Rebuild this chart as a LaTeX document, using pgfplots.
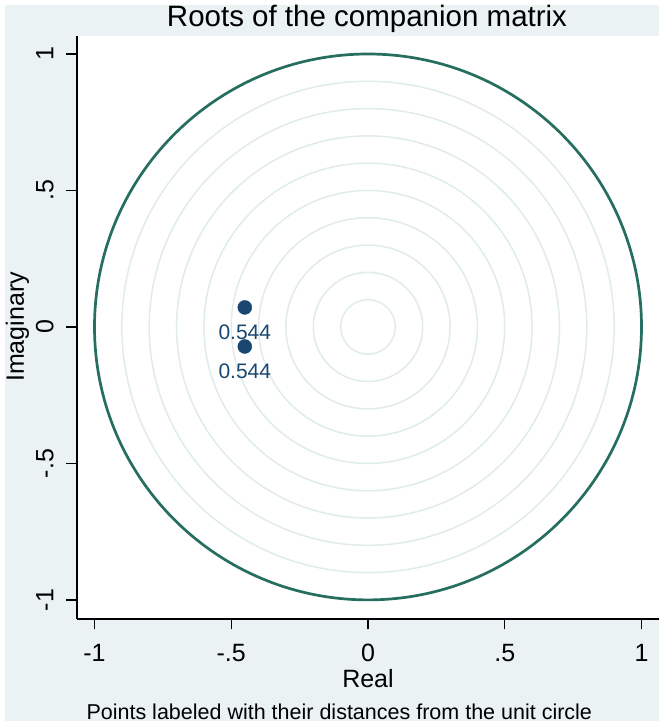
\documentclass[border=0pt]{standalone}
\usepackage{fontspec}
\setmainfont{Liberation Sans}
\usepackage{pgfplots}
\pgfplotsset{compat=1.18}
\definecolor{bgblue}{RGB}{234,242,243}
\definecolor{navy}{RGB}{26,71,111}
\definecolor{circ}{RGB}{38,110,96}
\definecolor{gridc}{RGB}{224,236,236}
\begin{document}
\begin{tikzpicture}[x=1pt,y=1pt]
\fill[white] (0,0) rectangle (666,728);
\fill[bgblue] (5,7) rectangle (659,723);
\begin{axis}[
  at={(77pt,109pt)}, anchor=south west,
  scale only axis, width=582pt, height=583pt,
  xmin=-1.064, xmax=1.064, ymin=-1.07, ymax=1.066,
  axis x line*=bottom, axis y line*=left,
  axis line style={black, line width=1.3pt, -},
  tick align=outside,
  major tick length=10.5pt,
  tick style={black, line width=1.3pt},
  xtick={-1,-0.5,0,0.5,1}, xticklabels={-1,-.5,0,.5,1},
  ytick={-1,-0.5,0,0.5,1}, yticklabels={-1,-.5,0,.5,1},
  tick label style={font=\fontsize{25}{30}\selectfont, inner sep=0pt},
  xticklabel style={anchor=north, outer ysep=15pt},
  yticklabel style={rotate=90, anchor=south, outer ysep=13pt},
  axis background/.style={fill=white},
  clip=false,
]
\draw[gridc, line width=1.5pt] (axis cs:0,0) circle[radius=0.1];
\draw[gridc, line width=1.5pt] (axis cs:0,0) circle[radius=0.2];
\draw[gridc, line width=1.5pt] (axis cs:0,0) circle[radius=0.3];
\draw[gridc, line width=1.5pt] (axis cs:0,0) circle[radius=0.4];
\draw[gridc, line width=1.5pt] (axis cs:0,0) circle[radius=0.5];
\draw[gridc, line width=1.5pt] (axis cs:0,0) circle[radius=0.6];
\draw[gridc, line width=1.5pt] (axis cs:0,0) circle[radius=0.7];
\draw[gridc, line width=1.5pt] (axis cs:0,0) circle[radius=0.8];
\draw[gridc, line width=1.5pt] (axis cs:0,0) circle[radius=0.9];
\draw[circ, line width=2.7pt] (axis cs:0,0) circle[radius=1];
\addplot[only marks, mark=*, mark size=7pt, color=navy,
  nodes near coords, point meta=explicit symbolic,
  every node near coord/.style={anchor=north, yshift=-17pt, inner sep=0pt,
    font=\fontsize{21}{25}\selectfont, text=navy}]
  table[meta=label] {
x y label
-0.4505 0.0715 0.544
-0.4505 -0.0715 0.544
};
\end{axis}
\node[anchor=base, font=\fontsize{25}{30}\selectfont] at (368,40) {Real};
\node[rotate=90, anchor=base, font=\fontsize{25}{30}\selectfont] at (24,401) {Imaginary};
\node[anchor=base, font=\fontsize{29.5}{35}\selectfont] at (367,701) {Roots of the companion matrix};
\node[anchor=base west, font=\fontsize{21.5}{26}\selectfont] at (83,9) {Points labeled with their distances from the unit circle};
\end{tikzpicture}
\end{document}
